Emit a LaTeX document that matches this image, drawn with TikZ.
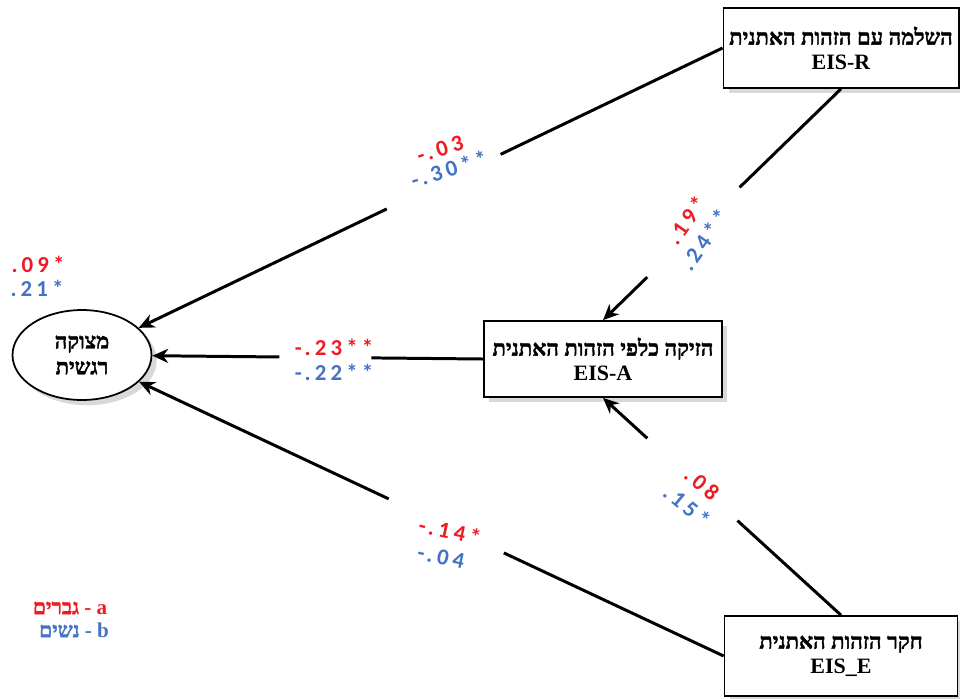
\documentclass[tikz,border=0pt]{standalone}
\usepackage{fontspec}
\setmainfont{Liberation Serif}
\newfontfamily\hebfont[Script=Hebrew, FakeBold=1.6]{Liberation Serif}
\newfontfamily\numfont[LetterSpace=18]{Carlito}
\TeXXeTstate=1
\usetikzlibrary{shapes.geometric,arrows.meta,shadows}
\definecolor{menred}{RGB}{237,28,36}
\definecolor{womblue}{RGB}{68,114,196}
\newcommand{\heb}[1]{{\hebfont\beginR #1\endR}}
\tikzset{
  scalebox/.style={draw, line width=1pt, fill=white, minimum width=4.66cm, minimum height=1.6cm,
    align=center, font=\bfseries\fontsize{12.5}{14}\selectfont,
    drop shadow={opacity=.3, shadow xshift=3pt, shadow yshift=-3pt}},
  link/.style={line width=1.7pt},
  linkarr/.style={link, -{Stealth[length=9pt,width=8pt]}},
  coef/.style={font=\numfont\bfseries\fontsize{13}{15}\selectfont, inner sep=0pt},
  men/.style={coef, text=menred},
  women/.style={coef, text=womblue},
  legend/.style={font=\bfseries\fontsize{12}{14}\selectfont}
}
\begin{document}
\begin{tikzpicture}[x=0.02cm, y=-0.02cm]
    \useasboundingbox (0,0) rectangle (960,698);
    \node[scalebox] (eisr) at (841,48) {\heb{השלמה עם הזהות האתנית}\\EIS-R};
    \node[scalebox, minimum width=4.76cm, minimum height=1.52cm] (eisa) at (603,359) {\heb{הזיקה כלפי הזהות האתנית}\\EIS-A};
    \node[scalebox] (eise) at (841,656) {\heb{חקר הזהות האתנית}\\EIS\_E};
    \node[draw, ellipse, line width=1pt, fill=white, minimum width=2.78cm, minimum height=1.8cm, align=center,
      font=\bfseries\fontsize{12.5}{14.7}\selectfont,
      drop shadow={opacity=.3, shadow xshift=3pt, shadow yshift=-3pt}] (distress) at (82,355)
      {\heb{מצוקה}\\\heb{רגשית}};
    \path (eisr.west) -- (distress) coordinate[pos=.38] (r1) coordinate[pos=.575] (r2);
    \path (eisr.south) -- (eisa.north) coordinate[pos=.426] (ra1) coordinate[pos=.814] (ra2);
    \path (eisa.west) -- (distress) coordinate[pos=.338] (a1) coordinate[pos=.616] (a2);
    \path (eise.north) -- (eisa.south) coordinate[pos=.435] (ea1) coordinate[pos=.814] (ea2);
    \path (eise.west) -- (distress) coordinate[pos=.376] (e1) coordinate[pos=.573] (e2);
    \draw[link] (eisr.west) -- (r1);
    \draw[linkarr] (r2) -- (distress);
    \draw[link] (eisr.south) -- (ra1);
    \draw[linkarr] (ra2) -- (eisa.north);
    \draw[link] (eisa.west) -- (a1);
    \draw[linkarr] (a2) -- (distress);
    \draw[link] (eise.north) -- (ea1);
    \draw[linkarr] (ea2) -- (eisa.south);
    \draw[link] (eise.west) -- (e1);
    \draw[linkarr] (e2) -- (distress);
    \node[men, rotate=17] (rm) at (440,149) {-.03};
    \node[women, rotate=17] (rw) at (449,169) {-.30**};
    \node[men, rotate=55] (ram) at (686,220) {.19*};
    \node[women, rotate=55] (raw) at (704,240) {.24**};
    \node[men] (am) at (334,347) {-.23**};
    \node[women] (aw) at (334,372) {-.22**};
    \node[men, rotate=-40] (eam) at (702,484) {.08};
    \node[women, rotate=-40] (eaw) at (687,506) {.15*};
    \node[men, rotate=-12] (em) at (450,531) {-.14*};
    \node[women, rotate=-12] (ew) at (441,557) {-.04};
    \node[men] (resm) at (38,264) {.09*};
    \node[women] (resw) at (37,288) {.21*};
    \node[legend, text=menred] (lgm) at (70,608) {\beginR a - {\hebfont גברים}\endR};
    \node[legend, text=womblue] (lgw) at (74,630) {\beginR b - {\hebfont נשים}\endR};
\end{tikzpicture}
\end{document}
